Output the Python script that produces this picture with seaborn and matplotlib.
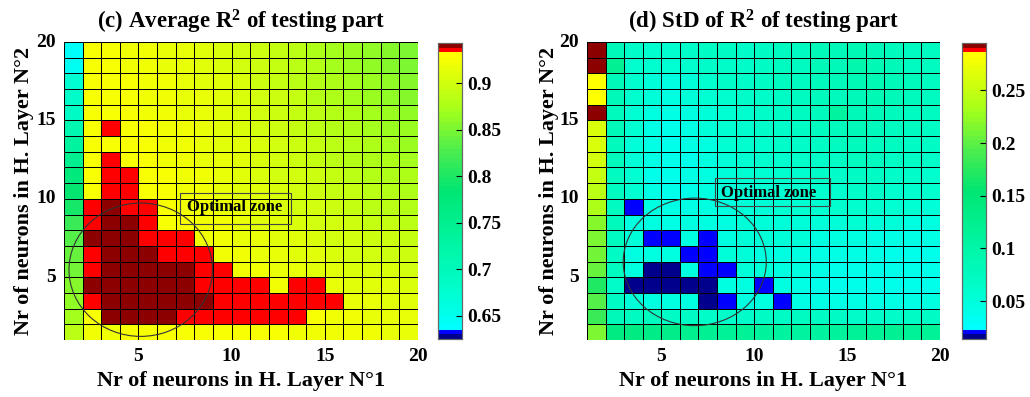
import matplotlib
matplotlib.use("Agg")
import matplotlib.pyplot as plt
import numpy as np
import seaborn as sns
from matplotlib.colors import ListedColormap, LinearSegmentedColormap
from matplotlib.patches import Ellipse, Rectangle

# values x1000, rows from top (H. Layer N°2 = 19..20) to bottom (1..2),
# columns H. Layer N°1 = 1..19 (pcolor style, 19x19 cells)
avg_r2_milli = [
    [640, 925, 924, 922, 920, 917, 914, 911, 907, 902, 896, 890, 884, 878, 872, 866, 860, 855, 850],
    [645, 926, 925, 923, 921, 918, 915, 912, 908, 903, 897, 891, 885, 879, 873, 867, 862, 857, 852],
    [670, 926, 925, 924, 922, 919, 916, 913, 909, 904, 898, 892, 887, 881, 875, 869, 864, 859, 855],
    [680, 927, 926, 924, 922, 920, 917, 914, 910, 905, 900, 894, 889, 883, 877, 872, 866, 862, 858],
    [685, 927, 926, 925, 923, 921, 918, 915, 911, 906, 901, 896, 891, 885, 880, 875, 869, 865, 861],
    [710, 927, 935, 925, 924, 922, 919, 916, 912, 908, 903, 898, 893, 888, 882, 877, 872, 868, 864],
    [730, 928, 927, 926, 924, 922, 920, 917, 913, 909, 904, 899, 895, 890, 885, 880, 875, 871, 867],
    [750, 928, 935, 926, 925, 923, 921, 918, 914, 910, 906, 901, 897, 892, 887, 883, 878, 874, 870],
    [770, 928, 935, 935, 925, 924, 922, 919, 916, 912, 908, 903, 899, 895, 890, 886, 882, 878, 874],
    [785, 928, 935, 935, 926, 924, 922, 920, 917, 913, 909, 905, 901, 897, 893, 889, 885, 881, 878],
    [795, 935, 941, 935, 935, 925, 923, 921, 918, 915, 911, 907, 903, 899, 896, 892, 888, 885, 882],
    [815, 935, 941, 941, 935, 926, 924, 922, 919, 916, 913, 909, 906, 902, 899, 895, 892, 889, 886],
    [830, 941, 941, 941, 935, 935, 935, 923, 921, 918, 915, 912, 909, 906, 903, 900, 897, 894, 891],
    [840, 935, 941, 941, 941, 935, 935, 935, 922, 920, 917, 914, 912, 909, 906, 903, 901, 898, 896],
    [848, 935, 941, 941, 941, 941, 941, 935, 935, 921, 919, 917, 915, 912, 910, 908, 906, 904, 902],
    [855, 941, 941, 941, 941, 941, 941, 935, 935, 935, 935, 920, 935, 935, 915, 913, 911, 909, 907],
    [862, 935, 941, 941, 941, 941, 941, 941, 935, 935, 935, 935, 935, 935, 935, 916, 914, 912, 911],
    [872, 925, 941, 941, 941, 941, 935, 935, 935, 935, 935, 935, 935, 924, 922, 920, 918, 917, 916],
    [888, 920, 922, 924, 925, 926, 926, 926, 926, 926, 925, 924, 923, 922, 921, 920, 919, 918, 917],
]

std_r2_milli = [
    [293, 80, 65, 62, 60, 66, 70, 68, 66, 70, 72, 75, 80, 82, 85, 80, 78, 75, 72],
    [293, 120, 62, 58, 55, 60, 66, 66, 64, 70, 72, 74, 80, 82, 95, 85, 80, 75, 72],
    [284, 80, 58, 50, 48, 52, 62, 64, 66, 70, 72, 74, 76, 80, 85, 88, 82, 76, 72],
    [284, 80, 60, 52, 48, 50, 56, 62, 64, 66, 70, 74, 76, 78, 82, 88, 82, 78, 74],
    [293, 78, 56, 46, 42, 46, 52, 56, 62, 66, 70, 72, 76, 110, 82, 80, 78, 75, 72],
    [262, 80, 54, 42, 40, 42, 50, 56, 60, 64, 66, 70, 74, 76, 80, 78, 75, 72, 70],
    [262, 78, 52, 42, 40, 42, 48, 54, 58, 62, 64, 66, 70, 72, 76, 75, 72, 70, 68],
    [258, 76, 52, 42, 40, 40, 46, 52, 56, 60, 62, 64, 66, 70, 72, 72, 70, 68, 66],
    [250, 75, 54, 40, 40, 42, 46, 50, 54, 56, 60, 62, 64, 66, 68, 68, 66, 64, 62],
    [245, 75, 54, 42, 40, 40, 45, 50, 52, 54, 56, 58, 60, 62, 64, 64, 62, 60, 60],
    [235, 74, 20, 45, 42, 42, 46, 48, 50, 52, 54, 56, 56, 58, 58, 58, 56, 54, 52],
    [220, 76, 48, 45, 44, 45, 46, 48, 50, 50, 52, 52, 52, 52, 54, 52, 50, 48, 48],
    [215, 72, 50, 20, 20, 45, 20, 48, 50, 50, 50, 50, 48, 46, 46, 44, 42, 42, 42],
    [210, 70, 48, 45, 46, 20, 20, 50, 50, 48, 48, 46, 44, 42, 42, 42, 40, 40, 40],
    [205, 72, 46, 16, 16, 45, 20, 20, 52, 50, 48, 46, 42, 40, 40, 40, 40, 40, 40],
    [172, 65, 16, 16, 16, 16, 16, 48, 46, 20, 46, 44, 40, 40, 40, 40, 40, 40, 40],
    [195, 70, 50, 48, 48, 46, 16, 20, 48, 46, 20, 44, 42, 42, 42, 42, 42, 44, 45],
    [185, 82, 75, 72, 70, 68, 66, 65, 65, 68, 70, 72, 70, 68, 66, 65, 65, 68, 70],
    [215, 140, 140, 135, 130, 125, 120, 118, 115, 112, 110, 108, 110, 112, 115, 118, 120, 118, 115],
]

axis_ticks = [5, 10, 15, 20]
avg_cbar_ticks = [0.65, 0.7, 0.75, 0.8, 0.85, 0.9]
std_cbar_ticks = [0.05, 0.1, 0.15, 0.2, 0.25]
titles = [r"(c) Average R$^\mathbf{2}$ of testing part", r"(d) StD of R$^\mathbf{2}$ of testing part"]
xlabel = "Nr of neurons in H. Layer N°1"
ylabel = "Nr of neurons in H. Layer N°2"

plt.rcParams["font.family"] = "Liberation Serif"
plt.rcParams["font.weight"] = "bold"
plt.rcParams["mathtext.fontset"] = "custom"
plt.rcParams["mathtext.rm"] = "Liberation Serif:bold"
plt.rcParams["mathtext.bf"] = "Liberation Serif:bold"
plt.rcParams["mathtext.it"] = "Liberation Serif:bold:italic"

# matlab-like 64 level map with highlighted ends
grad = LinearSegmentedColormap.from_list("grad", [
    (0.0, (0.0, 1.0, 1.0)),
    (0.12, (0.0, 1.0, 0.82)),
    (0.35, (0.0, 0.95, 0.6)),
    (0.5, (0.0, 0.9, 0.45)),
    (0.65, (0.3, 0.93, 0.3)),
    (0.8, (0.65, 1.0, 0.1)),
    (1.0, (1.0, 1.0, 0.0)),
])
colors = [(0, 0, 0.55), (0, 0, 1)] + [grad(i / 59) for i in range(60)] + [(1, 0, 0), (0.55, 0, 0)]
cmap = ListedColormap(colors)

fig = plt.figure(figsize=(10.3, 3.97), dpi=100)

panels = [
    dict(data=avg_r2_milli, vmin=0.625, vmax=0.943, ticks=avg_cbar_ticks,
         ax=[0.0621, 0.1436, 0.3437, 0.7506], cax=[0.4252, 0.146, 0.0233, 0.7456],
         ell=(4.12, 14.52, 7.7, 8.5), box=(6.25, 9.64, 5.94, 1.95), txt=(9.14, 10.55),
         ylab_x=-0.085),
    dict(data=std_r2_milli, vmin=0.014, vmax=0.295, ticks=std_cbar_ticks,
         ax=[0.5699, 0.1436, 0.3427, 0.7506], cax=[0.934, 0.146, 0.0233, 0.7456],
         ell=(5.8, 14.02, 7.7, 8.13), box=(6.88, 8.68, 6.22, 1.75), txt=(9.75, 9.6),
         ylab_x=-0.078),
]

for p, title in zip(panels, titles):
    ax = fig.add_axes(p["ax"])
    cax = fig.add_axes(p["cax"])
    vals = np.array(p["data"]) / 1000.0
    sns.heatmap(vals, ax=ax, cbar_ax=cax, cmap=cmap, vmin=p["vmin"], vmax=p["vmax"],
                linewidths=0.6, linecolor="black", cbar_kws={"ticks": p["ticks"]})

    # pcolor style axis: value v sits on cell edge v-1 (x), 20-v (y)
    ax.set_xticks([v - 1 for v in axis_ticks])
    ax.set_xticklabels([str(v) for v in axis_ticks], rotation=0, fontsize=14, fontweight="bold")
    ax.set_yticks([20 - v for v in axis_ticks])
    ax.set_yticklabels([str(v) for v in axis_ticks], rotation=0, fontsize=14, fontweight="bold")
    ax.tick_params(length=0, pad=6)
    ax.set_xlabel(xlabel, fontsize=16, fontweight="bold", labelpad=4)
    ax.set_ylabel(ylabel, fontsize=16, fontweight="bold")
    ax.yaxis.set_label_coords(p["ylab_x"], 0.5)
    ax.set_title(title, fontsize=16.5, fontweight="bold", pad=10)

    ex, ey, ew, eh = p["ell"]
    ax.add_patch(Ellipse((ex, ey), ew, eh, fill=False, edgecolor="#333333", lw=0.8))
    bx, by, bw, bh = p["box"]
    ax.add_patch(Rectangle((bx, by), bw, bh, fill=False, edgecolor="#444444", lw=0.8))
    ax.text(p["txt"][0], p["txt"][1], "Optimal zone", ha="center", va="center",
            fontsize=12, fontweight="bold")

    cax.tick_params(direction="in", length=4, labelsize=14, width=0.8)
    cax.set_yticklabels(["%g" % t for t in p["ticks"]], fontweight="bold")
    for s in cax.spines.values():
        s.set_visible(True)
        s.set_edgecolor("#666666")
        s.set_linewidth(0.8)

fig.savefig("out.png", dpi=100)
